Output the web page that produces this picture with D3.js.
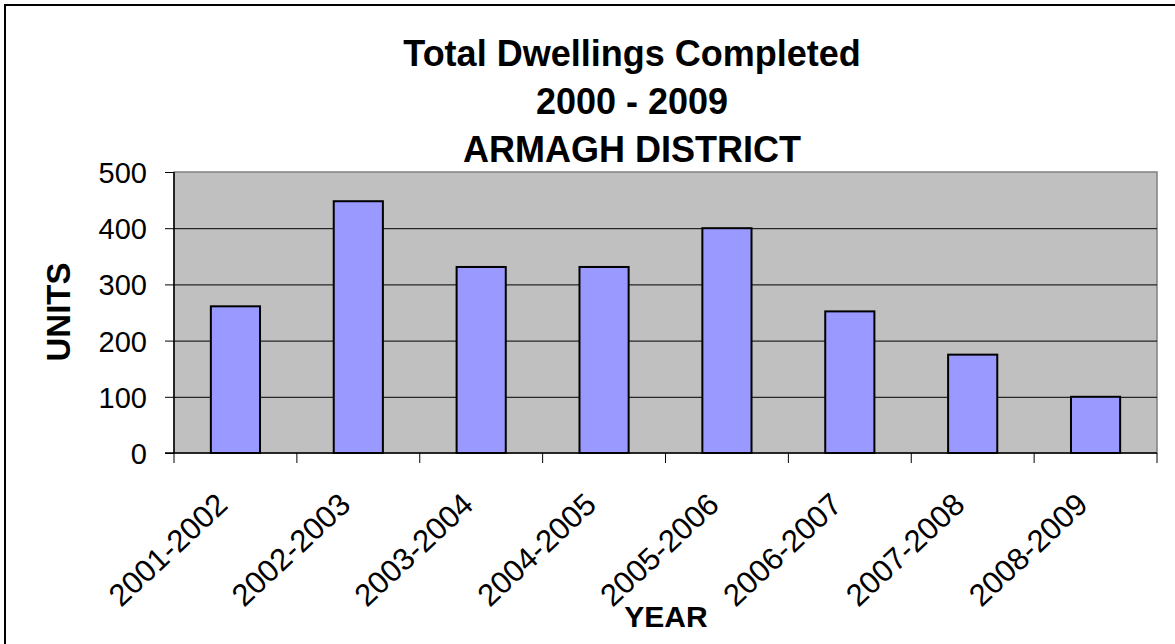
<!DOCTYPE html>
<html>
<head>
<meta charset="utf-8">
<script src="https://cdn.jsdelivr.net/npm/d3@7/dist/d3.min.js"></script>
<style>
  body { margin: 0; background: #fff; }
  text { font-family: "Liberation Sans", Arial, sans-serif; fill: #000; }
</style>
</head>
<body>
<div id="chart"></div>
<script>
// data
const years = ["2001-2002", "2002-2003", "2003-2004", "2004-2005",
               "2005-2006", "2006-2007", "2007-2008", "2008-2009"];
const units = [261, 448, 331, 331, 400, 252, 175, 100];
const yTicks = [0, 100, 200, 300, 400, 500];
const titleLines = ["Total Dwellings Completed", "2000 - 2009", "ARMAGH DISTRICT"];

const W = 1175, H = 644;
const margin = {top: 172, right: 18, bottom: 191, left: 174};
const width = W - margin.left - margin.right,
      height = H - margin.top - margin.bottom;

const svg = d3.select("#chart").append("svg")
    .attr("width", W)
    .attr("height", H);

// outer chart border (right/bottom run off the picture)
svg.append("rect")
    .attr("x", 5).attr("y", 5)
    .attr("width", W + 10).attr("height", H + 10)
    .attr("fill", "#fff")
    .attr("stroke", "#000")
    .attr("stroke-width", 2);

const g = svg.append("g")
    .attr("transform", "translate(" + margin.left + "," + margin.top + ")");

let xScale = d3.scaleBand()
    .domain(years)
    .range([0, width])
    .paddingInner(0.6)
    .paddingOuter(0.3);

let xBand = d3.scaleBand().domain(years).range([0, width]);

let yScale = d3.scaleLinear()
    .domain([0, 500])
    .range([height, 0]);

// plot area
g.append("rect")
    .attr("width", width)
    .attr("height", height)
    .attr("fill", "#c0c0c0")
    .attr("stroke", "#808080")
    .attr("stroke-width", 1.5);

// gridlines
g.selectAll(".grid")
    .data(yTicks.filter(d => d > 0 && d < 500))
    .enter().append("line")
    .attr("class", "grid")
    .attr("x1", 0).attr("x2", width)
    .attr("y1", d => yScale(d) + 0.5)
    .attr("y2", d => yScale(d) + 0.5)
    .attr("stroke", "#000")
    .attr("stroke-width", 1);

// bars
g.selectAll(".bar")
    .data(units)
    .enter().append("rect")
    .attr("class", "bar")
    .attr("x", (d, i) => xScale(years[i]))
    .attr("y", d => yScale(d))
    .attr("width", xScale.bandwidth())
    .attr("height", d => height - yScale(d))
    .attr("fill", "#9999ff")
    .attr("stroke", "#000")
    .attr("stroke-width", 2);

// y axis
let yAxis = d3.axisLeft(yScale).tickValues(yTicks).tickSize(9).tickPadding(18);
let yAxis_g = g.append("g").attr("class", "y axis").call(yAxis);
yAxis_g.select(".domain").attr("stroke", "#000").attr("stroke-width", 1.5)
    .attr("d", "M0," + height + "V0");
yAxis_g.selectAll(".tick line").attr("stroke", "#000");
yAxis_g.selectAll("text")
    .style("font-size", "29px")
    .attr("dy", "0.36em");

// x axis: ticks on category boundaries
let boundaries = years.map(d => xBand(d)).concat([width]);
let xAxis_g = g.append("g").attr("class", "x axis")
    .attr("transform", "translate(0," + height + ")");
xAxis_g.append("line")
    .attr("x1", -9).attr("x2", width)
    .attr("stroke", "#000").attr("stroke-width", 1.5);
xAxis_g.selectAll(".xtick")
    .data(boundaries)
    .enter().append("line")
    .attr("class", "xtick")
    .attr("x1", d => d).attr("x2", d => d)
    .attr("y1", 0).attr("y2", 10)
    .attr("stroke", "#000");
xAxis_g.selectAll(".xlabel")
    .data(years)
    .enter().append("text")
    .attr("class", "xlabel")
    .attr("text-anchor", "end")
    .attr("transform", d => "translate(" + (xBand(d) + xBand.bandwidth() / 2 - 6) + ",54) rotate(-43)")
    .style("font-size", "31px")
    .text(d => d);

// axis titles
svg.append("text")
    .attr("text-anchor", "middle")
    .attr("transform", "translate(70,312) rotate(-90)")
    .style("font-size", "33px")
    .style("font-weight", "bold")
    .text("UNITS");

svg.append("text")
    .attr("x", 666).attr("y", 627)
    .attr("text-anchor", "middle")
    .style("font-size", "30px")
    .style("font-weight", "bold")
    .text("YEAR");

// title
svg.selectAll(".title")
    .data(titleLines)
    .enter().append("text")
    .attr("class", "title")
    .attr("x", 632)
    .attr("y", (d, i) => 66 + i * 48)
    .attr("text-anchor", "middle")
    .style("font-size", "36px")
    .style("font-weight", "bold")
    .text(d => d);
</script>
</body>
</html>
